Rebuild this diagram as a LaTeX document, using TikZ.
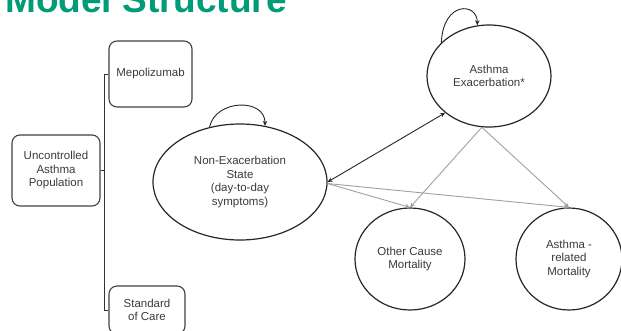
\documentclass[tikz,border=0pt]{standalone}
\usepackage{fontspec}
\setmainfont{Liberation Sans}
\usetikzlibrary{shapes.geometric,arrows.meta}
\definecolor{titlegreen}{HTML}{009B77}
\definecolor{txtgray}{HTML}{3A3A3A}
\definecolor{arrgray}{HTML}{A0A0A0}
\begin{document}
\begin{tikzpicture}[x=1pt,y=-1pt,
  lbl/.style={font=\fontsize{11.5}{13.5}\selectfont, text=txtgray, align=center},
  roundbox/.style={lbl, draw=black!75, line width=1.1pt, rounded corners=8pt, inner sep=0pt},
  stateell/.style={lbl, draw=black!85, line width=1.2pt, ellipse, inner sep=0pt},
  blackarr/.style={draw=black!85, line width=0.9pt, -{Stealth[length=5pt,width=4.5pt]}},
  grayarr/.style={draw=arrgray, line width=0.9pt, -{Stealth[length=5pt,width=4.5pt]}},
  bracket/.style={draw=black!80, line width=1pt}
]
\useasboundingbox (0,0) rectangle (621,330);
\node[anchor=base west, inner sep=0pt, text=titlegreen, font=\fontsize{37}{40}\selectfont\bfseries] (title) at (5,12) {Model Structure};

% boxes
\node[roundbox, minimum width=83pt, minimum height=66pt] (mep) at (150.5,74) {Mepolizumab};
\node[roundbox, minimum width=88pt, minimum height=71pt] (unc) at (56,170.5) {Uncontrolled\\Asthma\\Population};
\node[roundbox, minimum width=76pt, minimum height=48pt] (soc) at (147,310) {Standard\\of Care};

% bracket
\coordinate (bx) at (104,0);
\draw[bracket] (mep.west) -- (mep.west -| bx) -- (soc.west -| bx) -- (soc.west);
\draw[bracket] (unc.east) -- (unc.east -| bx);

% states
\node[stateell, minimum width=174pt, minimum height=116pt] (ne) at (240,182) {Non-Exacerbation\\State\\(day-to-day\\symptoms)};
\node[stateell, minimum width=124pt, minimum height=102pt] (ae) at (489,76) {Asthma\\Exacerbation*};
\node[stateell, minimum width=110pt, minimum height=102pt] (oc) at (410,259) {Other Cause\\Mortality};
\node[stateell, minimum width=106pt, minimum height=102pt] (ar) at (569,259) {Asthma -\\related\\Mortality};

% self loops
\draw[blackarr] (ne.119) .. controls +(6,-28) and +(0,-28) .. (ne.66);
\draw[blackarr] (ae.145) .. controls +(2,-42) and +(0,-23) .. (ae.103);

% transitions
\draw[grayarr] (ne.-1) -- (oc.north);
\draw[grayarr] (ne.-1) -- (ar.north);
\draw[grayarr] (ae.262) -- (oc.north);
\draw[grayarr] (ae.262) -- (ar.north);
\draw[blackarr, {Stealth[length=5pt,width=4.5pt]}-{Stealth[length=5pt,width=4.5pt]}] (ne.east) -- (ae.220);
\end{tikzpicture}
\end{document}
